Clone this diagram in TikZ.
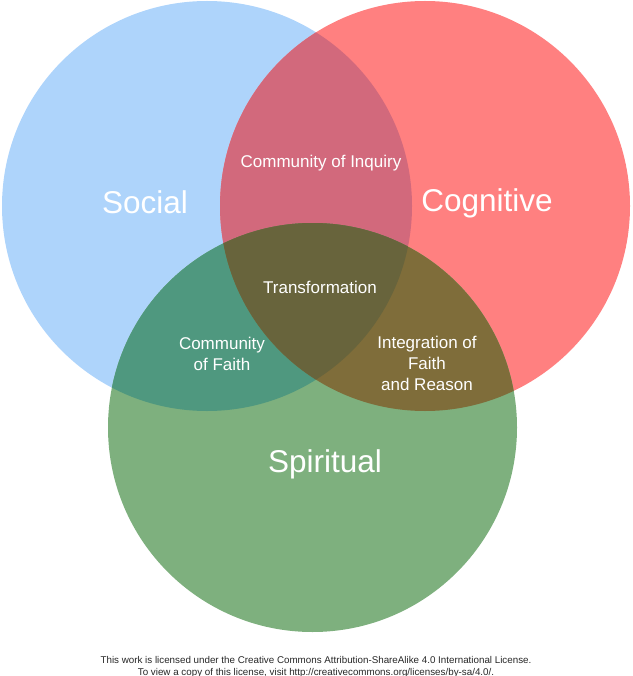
\documentclass[tikz,border=0pt]{standalone}
\usepackage{fontspec}
\setmainfont{Liberation Sans}
\definecolor{cblue}{HTML}{AED4FB}
\definecolor{cred}{HTML}{FF8080}
\definecolor{cgreen}{HTML}{7EB07E}
\definecolor{cbr}{HTML}{D2697C}
\definecolor{cbg}{HTML}{4F987F}
\definecolor{crg}{HTML}{7F6D3A}
\definecolor{call}{HTML}{68643C}
\begin{document}
\begin{tikzpicture}[x=1pt,y=-1pt,
  lbl/.style={text=white, font=\fontsize{17}{21}\selectfont, align=center, inner sep=0pt},
  big/.style={text=white, font=\fontsize{31.5}{36}\selectfont, inner sep=0pt},
  lic/.style={text=black!85, font=\fontsize{9.8}{11.5}\selectfont, align=center, inner sep=0pt}]
\useasboundingbox (0,0) rectangle (632,676);
\def\soc{(207,206) circle[radius=205pt]}
\def\cog{(425,206) circle[radius=205pt]}
\def\spi{(312.5,427.5) circle[radius=204.5pt]}
\fill[cblue] \soc;
\fill[cred] \cog;
\fill[cgreen] \spi;
\begin{scope}\clip \soc; \fill[cbr] \cog; \end{scope}
\begin{scope}\clip \soc; \fill[cbg] \spi; \end{scope}
\begin{scope}\clip \cog; \fill[crg] \spi; \end{scope}
\begin{scope}\clip \soc; \clip \cog; \fill[call] \spi; \end{scope}
\node[big] (social) at (145,202) {Social};
\node[big] (cognitive) at (487,203) {Cognitive};
\node[big] (spiritual) at (325,464) {Spiritual};
\node[lbl] (inquiry) at (321,163) {Community of Inquiry};
\node[lbl] (transf) at (320,287) {Transformation};
\node[lbl] (faith) at (222,354) {Community\\of Faith};
\node[lbl] (integ) at (427,363) {Integration of\\Faith\\and Reason};
\node[lic] (license) at (316,667) {This work is licensed under the Creative Commons Attribution-ShareAlike 4.0 International License.\\To view a copy of this license, visit http://creativecommons.org/licenses/by-sa/4.0/.};
\end{tikzpicture}
\end{document}
